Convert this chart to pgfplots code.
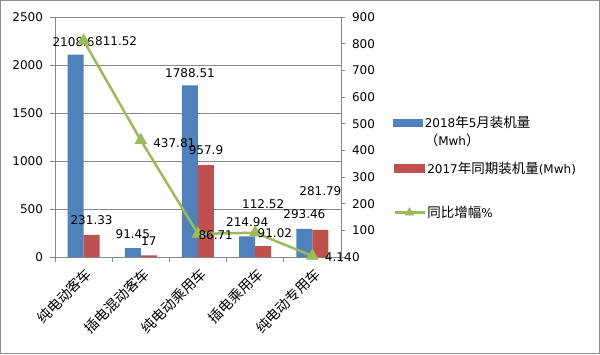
\documentclass[border=0pt]{standalone}
\usepackage{fontspec}
\setmainfont{DejaVu Sans}
\newfontfamily\cjk{Noto Sans CJK SC}
\usepackage{pgfplots}
\pgfplotsset{compat=1.18}
\usepackage{pgfplotstable}
\definecolor{blueC}{HTML}{4F81BD}
\definecolor{redC}{HTML}{C0504D}
\definecolor{greenC}{HTML}{9BBB59}
\definecolor{gridc}{HTML}{868686}
\definecolor{framec}{HTML}{8C8C8C}
\newcommand{\nf}{\fontsize{12}{15}\selectfont}
\newcommand{\cf}{\fontsize{14}{16}\selectfont\cjk}
\newcommand{\lc}[1]{{\fontsize{13.5}{15}\selectfont\cjk #1}}
\pgfplotstableread{
x a alab adx ady b blab bdy
0 2108.6 2108.6 -2 4 231.33 231.33 7
1 91.45 91.45 0 6 17 17 6
2 1788.51 1788.51 0 4 957.9 957.9 7
3 214.94 214.94 0 6 112.52 112.52 34
4 293.46 293.46 0 7 281.79 281.79 31
}\bars
\pgfplotstableread{
x g glab gdx gdy
0 811.52 811.52 8 -1
1 437.81 437.81 9 -3
2 86.71 86.71 -3 -1
3 91.02 91.02 -1 0
4 4.14 4.14 9 -1
}\growth
\begin{document}
\begin{tikzpicture}[font=\nf]
\draw[framec, line width=1pt, fill=white] (-54.5pt,-96.5pt) rectangle (544.5pt,256.5pt);
\begin{axis}[
  width=286pt, height=240pt, scale only axis,
  xmin=-0.5, xmax=4.5, ymin=0, ymax=2500,
  ybar=0pt, bar width=16pt,
  ytick={0,500,...,2500},
  ymajorgrids, grid style={draw=gridc, line width=0.8pt},
  axis line style={draw=gridc, line width=0.8pt},
  xtick={-0.5,0.5,1.5,2.5,3.5,4.5},
  x tick label as interval,
  xticklabels={{\cf 纯电动客车},{\cf 插电混动客车},{\cf 纯电动乘用车},{\cf 插电乘用车},{\cf 纯电动专用车}},
  tick align=outside, tick pos=left,
  major tick length=4.5pt,
  tick style={draw=gridc, line width=0.8pt},
  xticklabel style={rotate=45, anchor=north east, font=\cf, inner sep=2pt, xshift=-1pt, yshift=-2pt},
  yticklabel style={font=\nf, xshift=-4pt},
  /pgf/number format/1000 sep={},
  /pgf/number format/assume math mode=true,
  legend cell align=left,
  legend style={at={(axis description cs:1.182,0.594)}, anchor=north west, draw=none, fill=none,
     font=\nf, inner sep=0pt, row sep=2pt, nodes={inner sep=1.5pt}},
]
\addplot[fill=blueC, draw=none, bar shift=-8pt,
  nodes near coords, point meta=explicit symbolic,
  visualization depends on={\thisrow{adx} \as \dx},
  visualization depends on={\thisrow{ady} \as \dy},
  every node near coord/.append style={font=\nf, text=black, xshift=\dx, yshift=\dy},
  legend image code/.code={\fill[blueC] (0pt,-4pt) rectangle (30pt,4pt);}]
  table[x=x, y=a, meta=alab] {\bars};
\addlegendentry{2018\lc{年}5\lc{月装机量}}
\addlegendimage{empty legend}
\addlegendentry{\lc{（}Mwh\lc{）}}
\addplot[fill=redC, draw=none, bar shift=8pt, forget plot,
  nodes near coords, point meta=explicit symbolic,
  visualization depends on={\thisrow{bdy} \as \dy},
  every node near coord/.append style={font=\nf, text=black, yshift=\dy}]
  table[x=x, y=b, meta=blab] {\bars};
\end{axis}
\begin{axis}[
  width=286pt, height=240pt, scale only axis,
  xmin=-0.5, xmax=4.5, ymin=0, ymax=900,
  axis y line*=right, hide x axis,
  ytick={0,100,...,900},
  axis line style={draw=gridc, line width=0.8pt},
  tick align=outside, major tick length=4.5pt,
  tick style={draw=gridc, line width=0.8pt},
  yticklabel style={font=\nf, xshift=3pt},
  /pgf/number format/1000 sep={},
  /pgf/number format/assume math mode=true,
  legend cell align=left,
  legend style={at={(axis description cs:1.182,0.402)}, anchor=north west, draw=none, fill=none,
     font=\nf, inner sep=0pt, row sep=28pt, nodes={inner sep=1.5pt}},
]
\addlegendimage{legend image code/.code={\fill[redC] (0pt,-4pt) rectangle (30pt,4pt);}}
\addlegendentry{2017\lc{年同期装机量}(Mwh)}
\addplot[greenC, line width=2.5pt, mark=triangle*, mark size=7pt,
  mark options={solid, line width=0.4pt},
  nodes near coords, point meta=explicit symbolic,
  visualization depends on={\thisrow{gdx} \as \dx},
  visualization depends on={\thisrow{gdy} \as \dy},
  every node near coord/.append style={font=\nf, text=black, anchor=west, xshift=\dx, yshift=\dy},
  legend image code/.code={\draw[greenC, line width=2.5pt, mark=triangle*, mark size=5pt, mark options={solid, line width=0.4pt}, mark repeat=2, mark phase=2] plot coordinates {(0pt,0pt) (15pt,0pt) (30pt,0pt)};}]
  table[x=x, y=g, meta=glab] {\growth};
\addlegendentry{\lc{同比增幅}\%}
\end{axis}
\end{tikzpicture}
\end{document}
